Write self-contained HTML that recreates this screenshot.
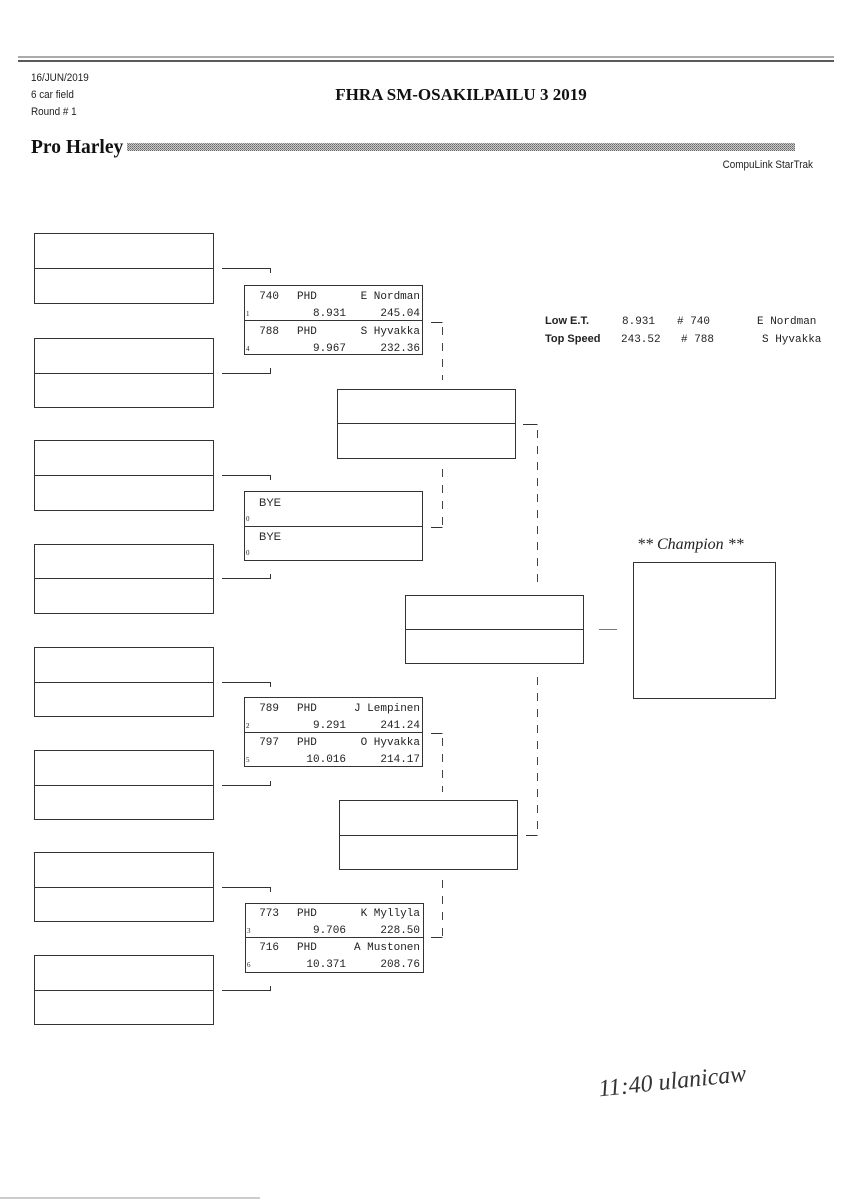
<!DOCTYPE html>
<html><head><meta charset="utf-8"><style>
html,body{margin:0;padding:0;background:#fff;width:848px;height:1200px;overflow:hidden}
svg{display:block}
.s{font-family:"Liberation Sans Narrow","Liberation Sans",sans-serif}
.m{font-family:"Liberation Mono",monospace;font-size:11px;fill:#222}
</style></head><body>
<svg width="848" height="1200" viewBox="0 0 848 1200" xmlns="http://www.w3.org/2000/svg">
<defs>
<pattern id="dots" width="2" height="2" patternUnits="userSpaceOnUse"><rect width="2" height="2" fill="#ccc"/><rect width="1" height="1" fill="#666"/><rect x="1" y="1" width="1" height="1" fill="#888"/></pattern>
</defs>
<!-- header -->
<line x1="18" y1="57" x2="834" y2="57" stroke="#555" stroke-width="1"/>
<line x1="18" y1="61" x2="834" y2="61" stroke="#222" stroke-width="1.5"/>
<text x="31" y="81" class="s" font-size="11" fill="#222" transform="translate(31 0) scale(0.9 1) translate(-31 0)">16/JUN/2019</text>
<text x="31" y="98" class="s" font-size="11" fill="#222" transform="translate(31 0) scale(0.9 1) translate(-31 0)">6 car field</text>
<text x="31" y="115" class="s" font-size="11" fill="#222" transform="translate(31 0) scale(0.9 1) translate(-31 0)">Round # 1</text>
<text x="461" y="100" font-family="Liberation Serif,serif" font-weight="bold" font-size="17" text-anchor="middle" fill="#111">FHRA SM-OSAKILPAILU 3 2019</text>
<text x="31" y="153" font-family="Liberation Serif,serif" font-weight="bold" font-size="19.5" fill="#111">Pro Harley</text>
<rect x="127" y="143" width="668" height="8" fill="url(#dots)"/>
<text x="813" y="168" class="s" font-size="11" text-anchor="end" fill="#222" transform="translate(813 0) scale(0.9 1) translate(-813 0)">CompuLink StarTrak</text>

<g fill="none" stroke="#333" stroke-width="1">
<rect x="34.5" y="233.5" width="179" height="70"/><line x1="34" y1="268.5" x2="213" y2="268.5"/>
<rect x="34.5" y="338.5" width="179" height="69"/><line x1="34" y1="373.5" x2="213" y2="373.5"/>
<rect x="34.5" y="440.5" width="179" height="70"/><line x1="34" y1="475.5" x2="213" y2="475.5"/>
<rect x="34.5" y="544.5" width="179" height="69"/><line x1="34" y1="578.5" x2="213" y2="578.5"/>
<rect x="34.5" y="647.5" width="179" height="69"/><line x1="34" y1="682.5" x2="213" y2="682.5"/>
<rect x="34.5" y="750.5" width="179" height="69"/><line x1="34" y1="785.5" x2="213" y2="785.5"/>
<rect x="34.5" y="852.5" width="179" height="69"/><line x1="34" y1="887.5" x2="213" y2="887.5"/>
<rect x="34.5" y="955.5" width="179" height="69"/><line x1="34" y1="990.5" x2="213" y2="990.5"/>
<path d="M222 268.5H270.5V273"/><path d="M222 373.5H270.5V368"/>
<path d="M222 475.5H270.5V480"/><path d="M222 578.5H270.5V574"/>
<path d="M222 682.5H270.5V687"/><path d="M222 785.5H270.5V781"/>
<path d="M222 887.5H270.5V892"/><path d="M222 990.5H270.5V986"/>
<rect x="244.5" y="285.5" width="178" height="69"/><line x1="244" y1="320.5" x2="422" y2="320.5"/>
<rect x="244.5" y="491.5" width="178" height="69"/><line x1="244" y1="526.5" x2="422" y2="526.5"/>
<rect x="244.5" y="697.5" width="178" height="69"/><line x1="244" y1="732.5" x2="422" y2="732.5"/>
<rect x="245.5" y="903.5" width="178" height="69"/><line x1="245" y1="937.5" x2="423" y2="937.5"/>
<rect x="337.5" y="389.5" width="178" height="69"/><line x1="337" y1="423.5" x2="515" y2="423.5"/>
<rect x="339.5" y="800.5" width="178" height="69"/><line x1="339" y1="835.5" x2="517" y2="835.5"/>
<rect x="405.5" y="595.5" width="178" height="68"/><line x1="405" y1="629.5" x2="583" y2="629.5"/>
<rect x="633.5" y="562.5" width="142" height="136"/>
<line x1="599" y1="629.5" x2="617" y2="629.5" stroke="#777"/>
<path d="M431 322.5H442.5"/><path d="M431 527.5H442.5"/>
<path d="M431 733.5H442.5"/><path d="M431 937.5H442.5"/>
<path d="M523 424.5H537.5"/><path d="M526 835.5H537.5"/>
</g>
<g fill="none" stroke="#444" stroke-width="1" stroke-dasharray="8,8">
<line x1="442.5" y1="327" x2="442.5" y2="380"/>
<line x1="442.5" y1="469" x2="442.5" y2="527"/>
<line x1="442.5" y1="738" x2="442.5" y2="792"/>
<line x1="442.5" y1="880" x2="442.5" y2="937"/>
<line x1="537.5" y1="430" x2="537.5" y2="586"/>
<line x1="537.5" y1="677" x2="537.5" y2="835"/>
</g>

<g class="m">
<text x="279" y="299" text-anchor="end">740</text><text x="297" y="299">PHD</text><text x="420" y="299" text-anchor="end">E Nordman</text>
<text x="346" y="316" text-anchor="end">8.931</text><text x="420" y="316" text-anchor="end">245.04</text>
<text x="279" y="334" text-anchor="end">788</text><text x="297" y="334">PHD</text><text x="420" y="334" text-anchor="end">S Hyvakka</text>
<text x="346" y="351" text-anchor="end">9.967</text><text x="420" y="351" text-anchor="end">232.36</text>

<text x="259" y="506" class="s" font-size="11">BYE</text>
<text x="259" y="540" class="s" font-size="11">BYE</text>

<text x="279" y="711" text-anchor="end">789</text><text x="297" y="711">PHD</text><text x="420" y="711" text-anchor="end">J Lempinen</text>
<text x="346" y="728" text-anchor="end">9.291</text><text x="420" y="728" text-anchor="end">241.24</text>
<text x="279" y="745" text-anchor="end">797</text><text x="297" y="745">PHD</text><text x="420" y="745" text-anchor="end">O Hyvakka</text>
<text x="346" y="762" text-anchor="end">10.016</text><text x="420" y="762" text-anchor="end">214.17</text>

<text x="279" y="916" text-anchor="end">773</text><text x="297" y="916">PHD</text><text x="420" y="916" text-anchor="end">K Myllyla</text>
<text x="346" y="933" text-anchor="end">9.706</text><text x="420" y="933" text-anchor="end">228.50</text>
<text x="279" y="950" text-anchor="end">716</text><text x="297" y="950">PHD</text><text x="420" y="950" text-anchor="end">A Mustonen</text>
<text x="346" y="967" text-anchor="end">10.371</text><text x="420" y="967" text-anchor="end">208.76</text>
</g>
<g font-family="Liberation Serif,serif" font-size="7" fill="#222">
<text x="246" y="316">1</text><text x="246" y="351">4</text>
<text x="246" y="521">0</text><text x="246" y="555">0</text>
<text x="246" y="728">2</text><text x="246" y="762">5</text>
<text x="247" y="933">3</text><text x="247" y="967">6</text>
</g>

<text x="545" y="324" class="s" font-size="11" font-weight="bold" fill="#222">Low  E.T.</text>
<text x="545" y="342" class="s" font-size="11" font-weight="bold" fill="#222">Top Speed</text>
<g class="m">
<text x="622" y="324">8.931</text><text x="677" y="324"># 740</text><text x="757" y="324">E Nordman</text>
<text x="621" y="342">243.52</text><text x="681" y="342"># 788</text><text x="762" y="342">S Hyvakka</text>
</g>
<text x="637" y="549" font-family="Liberation Serif,serif" font-style="italic" font-size="16" fill="#222">** Champion **</text>

<text x="598" y="1090" font-family="Liberation Serif,serif" font-style="italic" font-size="24" fill="#333" transform="rotate(-6 660 1080)">11:40 ulanicaw</text>
<line x1="0" y1="1198" x2="260" y2="1198" stroke="#999" stroke-width="1"/>
</svg>
</body></html>
